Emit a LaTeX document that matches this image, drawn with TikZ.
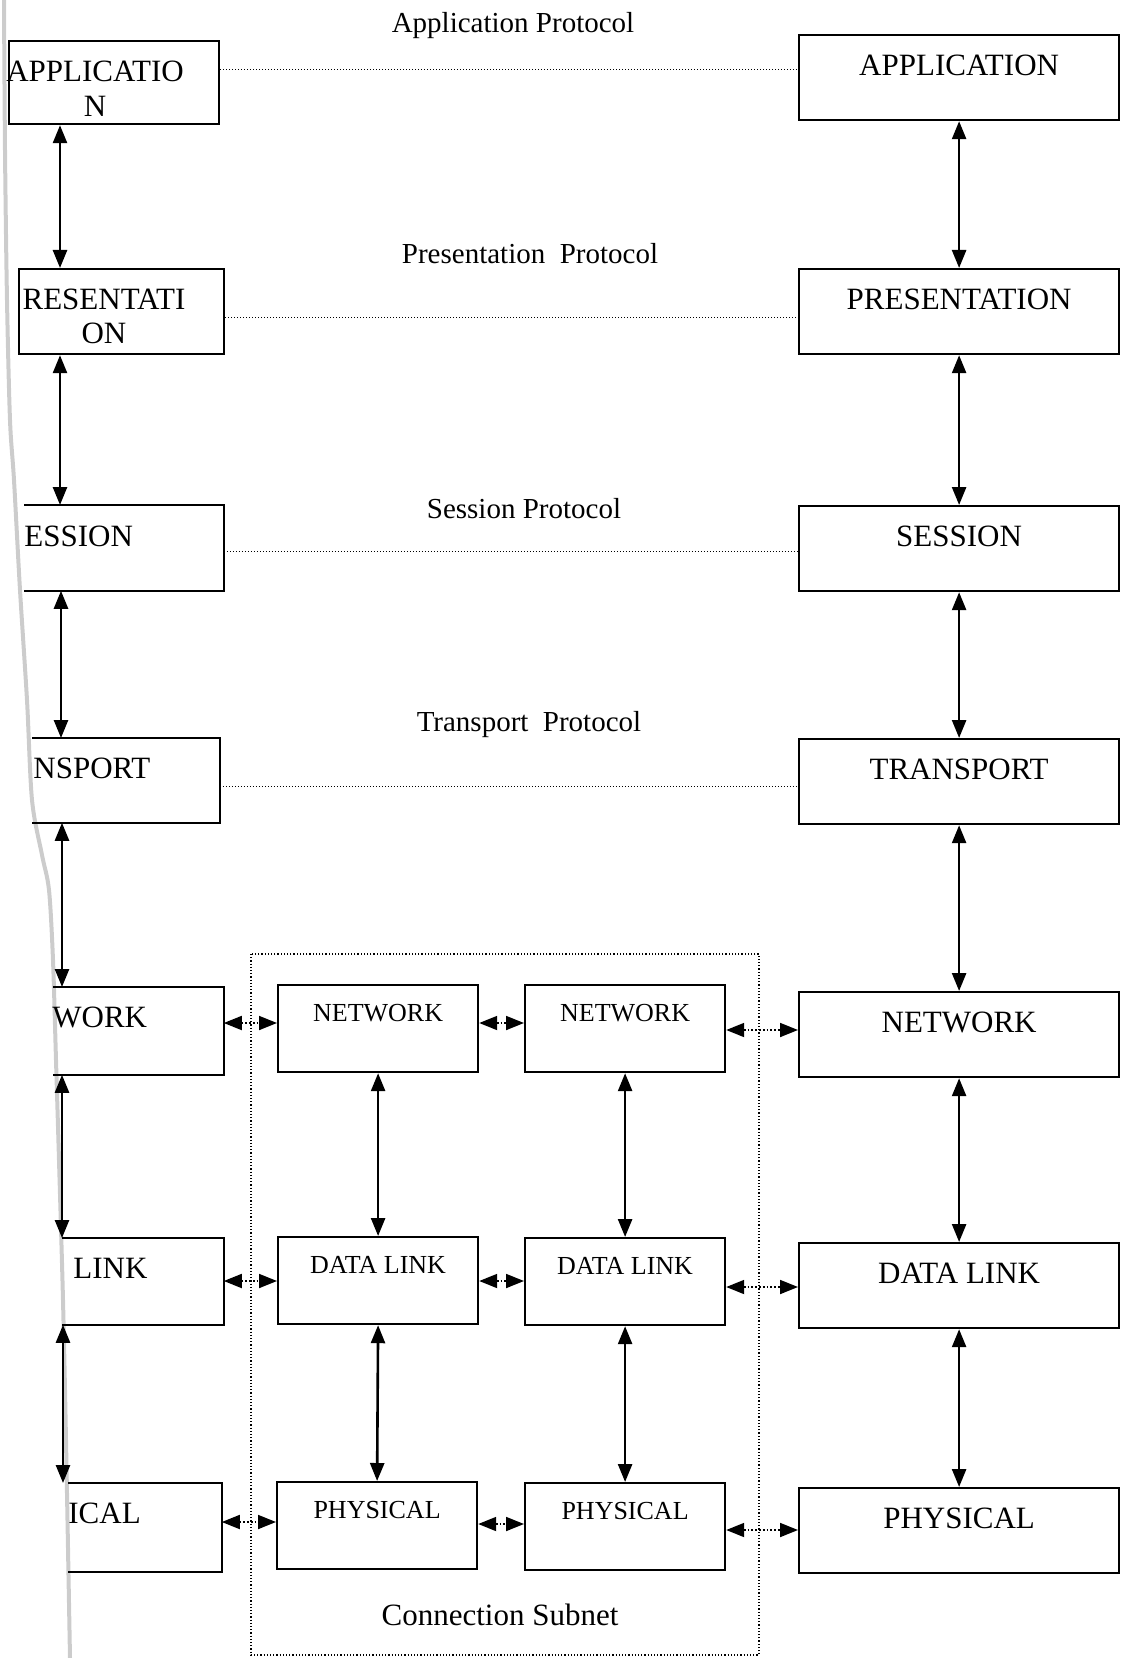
\documentclass[tikz,border=0pt]{standalone}
\usepackage{fontspec}
\setmainfont{Liberation Serif}
\usetikzlibrary{arrows.meta}

\tikzset{
  layer/.style={draw, line width=1.1pt, inner sep=0pt, anchor=north west, minimum width=160pt,
    text height=20pt, text depth=22.5pt, font=\fontsize{15.5}{18}\selectfont},
  relay/.style={draw, line width=1.1pt, inner sep=0pt, anchor=north west, minimum width=100pt,
    text height=18.3pt, text depth=25.2pt, font=\fontsize{13}{15}\selectfont},
  lbox/.style={draw, line width=1.1pt, inner sep=0pt, anchor=north west},
  stub/.style={inner sep=0pt, anchor=north west, minimum height=42.5pt},
  cut/.style={inner sep=0pt, anchor=west, font=\fontsize{15.5}{17.25}\selectfont},
  proto/.style={inner sep=0pt, font=\fontsize{14.5}{16}\selectfont},
  peer/.style={densely dotted, line width=0.5pt},
  link/.style={{Triangle[length=9pt,width=7pt]}-{Triangle[length=9pt,width=7pt]}, line width=1.3pt},
  hop/.style={link, line width=0.9pt, densely dotted},
}

\begin{document}
\begin{tikzpicture}[x=0.5pt, y=-0.5pt]
\useasboundingbox (0,0) rectangle (1120,1658);
% torn edge of the page
\draw[gray!40, line width=2pt] plot[smooth] coordinates {(4,0) (5,150) (7,300) (10,420) (14,480) (20,590) (27,700) (32,800) (42,855) (49,890) (53,960) (56,1060) (59,1160) (63,1300) (66,1440) (70,1658)};

% right host
\node[layer] (rapp) at (798,34) {APPLICATION};
\node[layer] (rpres) at (798,268) {PRESENTATION};
\node[layer] (rses) at (798,505) {SESSION};
\node[layer] (rtra) at (798,738) {TRANSPORT};
\node[layer] (rnet) at (798,991) {NETWORK};
\node[layer] (rdl) at (798,1242) {DATA LINK};
\node[layer] (rphy) at (798,1487) {PHYSICAL};

% subnet
\node[relay] (net1) at (277,984) {NETWORK};
\node[relay] (net2) at (524,984) {NETWORK};
\node[relay] (dl1) at (277,1236) {DATA LINK};
\node[relay] (dl2) at (524,1237) {DATA LINK};
\node[relay] (phy1) at (276,1481) {PHYSICAL};
\node[relay] (phy2) at (524,1482) {PHYSICAL};
\draw[densely dotted, line width=0.6pt] (251,954) rectangle (759,1655);
\node[font=\fontsize{15.5}{18}\selectfont] (subnet) at (500,1615) {Connection Subnet};

% left host, cut off
\node[lbox, minimum width=105pt, minimum height=41.5pt] (lapp) at (8,40) {};
\node[lbox, minimum width=102.5pt, minimum height=42.5pt] (lpres) at (18,268) {};
\node[stub, minimum width=99.5pt] (lses) at (24,505) {};
\node[stub, minimum width=93.5pt, minimum height=42pt] (ltra) at (32,738) {};
\node[stub, minimum width=85pt, minimum height=43.5pt] (lnet) at (53,987) {};
\node[stub, minimum width=80.5pt, minimum height=43pt] (ldl) at (62,1238) {};
\node[stub, minimum width=76.5pt, minimum height=44pt] (lphy) at (68,1483) {};
\foreach \n in {lses,ltra,lnet,ldl,lphy}
  \draw[line width=1.1pt] (\n.north west) -| (\n.south east) -- (\n.south west);
\node[cut, align=center, anchor=center] (lappt) at (95,88.5) {APPLICATIO\\N};
\node[cut, align=center, anchor=center] (lprest) at (104,316.5) {RESENTATI\\ON};
\node[cut] (lsest) at (24,536) {ESSION};
\node[cut] (ltrat) at (33,768) {NSPORT};
\node[cut] (lnett) at (52,1017) {WORK};
\node[cut] (ldlt) at (73,1268) {LINK};
\node[cut] (lphyt) at (68,1513) {ICAL};

% peer protocols
\node[proto] (papp) at (513,26) {Application Protocol};
\node[proto] (ppres) at (530,254) {Presentation\ \ Protocol};
\node[proto] (pses) at (524,509) {Session Protocol};
\node[proto] (ptra) at (529,725) {Transport\ \ Protocol};
\foreach \a/\b/\y in {lapp/rapp/70, lpres/rpres/318, lses/rses/551, ltra/rtra/786}
  \draw[peer] (\a.east |- 0,\y) -- (\b.west |- 0,\y);

% stacks
\foreach \a/\b in {rapp/rpres, rpres/rses, rses/rtra, rtra/rnet, rnet/rdl, rdl/rphy, net1/dl1, dl1/phy1, net2/dl2, dl2/phy2}
  \draw[link] (\a.south) -- (\b.north);
\foreach \a/\b/\x in {lapp/lpres/60, lpres/lses/60, lses/ltra/61, ltra/lnet/62, lnet/ldl/62, ldl/lphy/63}
  \draw[link] (\a.south -| \x,0) -- (\b.north -| \x,0);

% hops through the subnet
\foreach \a/\b/\y in {lnet/net1/1023, net1/net2/1023, net2/rnet/1030, ldl/dl1/1281, dl1/dl2/1281, dl2/rdl/1287, lphy/phy1/1522, phy1/phy2/1524, phy2/rphy/1530}
  \draw[hop] (\a.east |- 0,\y) -- (\b.west |- 0,\y);
\end{tikzpicture}
\end{document}
